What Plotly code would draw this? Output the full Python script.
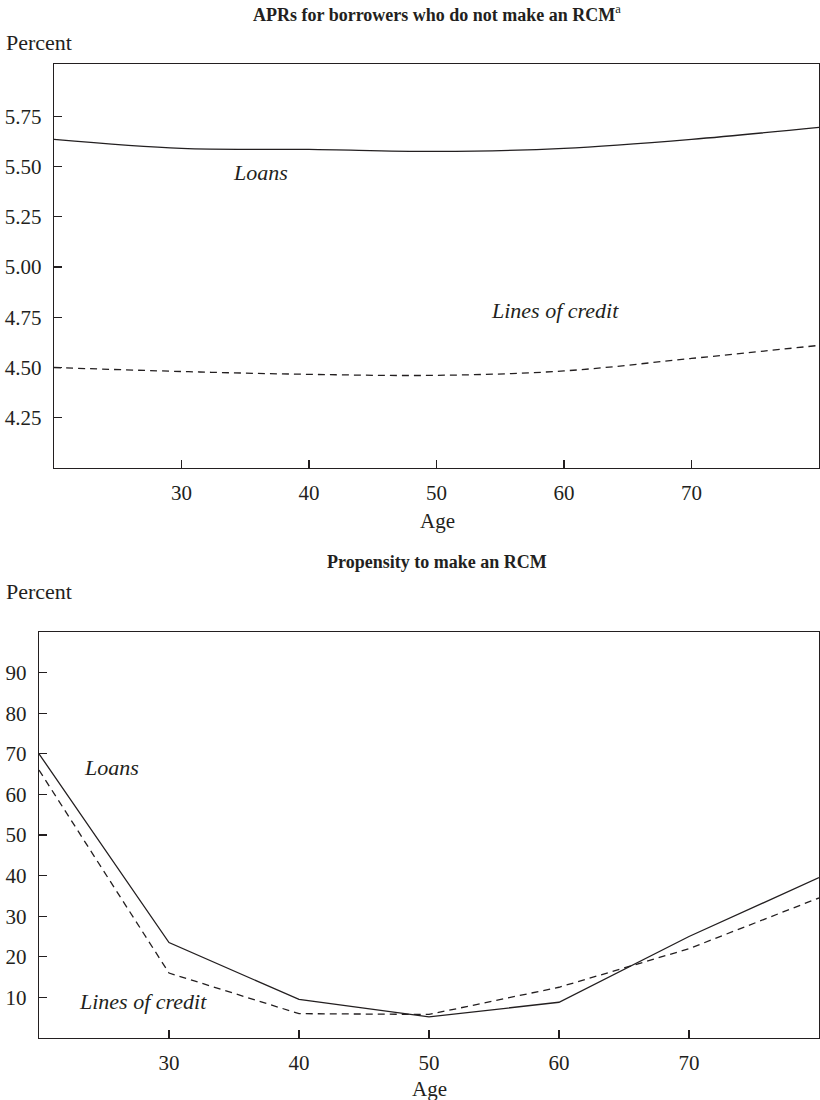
import plotly.graph_objects as go

ages = [20, 30, 40, 50, 60, 70, 80]
apr_loans = [5.635, 5.59, 5.585, 5.575, 5.59, 5.635, 5.695]
apr_loc = [4.50, 4.48, 4.466, 4.461, 4.483, 4.545, 4.61]
rcm_loans = [70, 23.5, 9.5, 5.2, 8.8, 25, 39.5]
rcm_loc = [66, 16, 6, 5.8, 12.5, 22, 34.5]

apr_ticks = [4.25, 4.50, 4.75, 5.00, 5.25, 5.50, 5.75]
rcm_ticks = [10, 20, 30, 40, 50, 60, 70, 80, 90]
age_ticks = [30, 40, 50, 60, 70]

FONT = "Liberation Serif"
INK = "#231f20"
W, H = 820, 1100

fig = go.Figure()
line_solid = dict(color=INK, width=1.3)
line_dash = dict(color=INK, width=1.3, dash="7px,5px")

fig.add_trace(go.Scatter(x=ages, y=apr_loans, mode="lines", line=dict(**line_solid, shape="spline"),
                         xaxis="x", yaxis="y", showlegend=False, hoverinfo="skip"))
fig.add_trace(go.Scatter(x=ages, y=apr_loc, mode="lines", line=dict(**line_dash, shape="spline"),
                         xaxis="x", yaxis="y", showlegend=False, hoverinfo="skip"))
fig.add_trace(go.Scatter(x=ages, y=rcm_loans, mode="lines", line=line_solid,
                         xaxis="x2", yaxis="y2", showlegend=False, hoverinfo="skip"))
fig.add_trace(go.Scatter(x=ages, y=rcm_loc, mode="lines", line=line_dash,
                         xaxis="x2", yaxis="y2", showlegend=False, hoverinfo="skip"))

axis_common = dict(showline=True, mirror=True, linecolor=INK, linewidth=1.4, showgrid=False,
                   zeroline=False, ticks="inside", ticklen=8, tickwidth=1.3, tickcolor=INK,
                   tickfont=dict(family=FONT, size=21, color=INK))

fig.update_layout(
    width=W, height=H,
    margin=dict(l=0, r=0, t=0, b=0),
    paper_bgcolor="white", plot_bgcolor="white",
    font=dict(family=FONT, color=INK),
    xaxis=dict(domain=[54 / W, 819 / W], range=[20, 80], tickvals=age_ticks,
               ticklabelstandoff=5, anchor="y", **axis_common),
    yaxis=dict(domain=[1 - 468 / H, 1 - 64 / H], range=[4.0, 6.01], tickvals=apr_ticks,
               tickformat=".2f", ticklabelstandoff=7, anchor="x", **axis_common),
    xaxis2=dict(domain=[39 / W, 819 / W], range=[20, 80], tickvals=age_ticks,
                ticklabelstandoff=5, anchor="y2", **axis_common),
    yaxis2=dict(domain=[1 - 1038 / H, 1 - 632 / H], range=[0, 100], tickvals=rcm_ticks,
                ticklabelstandoff=7, anchor="x2", **axis_common),
)

def paper_text(text, x, y, size, xanchor="center"):
    fig.add_annotation(text=text, x=x / W, y=1 - y / H,
                       xref="paper", yref="paper", showarrow=False, xanchor=xanchor,
                       yanchor="middle", font=dict(family=FONT, size=size, color=INK))

paper_text("<b>APRs for borrowers who do not make an RCM</b><sup>a</sup>", 437, 13, 18)
paper_text("Percent", 4, 42, 22, xanchor="left")
paper_text("Age", 437, 521, 21)
paper_text("<b>Propensity to make an RCM</b>", 437, 562, 18)
paper_text("Percent", 4, 591, 22, xanchor="left")
paper_text("Age", 429, 1089, 21)

def data_text(text, x, y, xr, yr):
    fig.add_annotation(text=f"<i>{text}</i>", x=x, y=y, xref=xr, yref=yr, showarrow=False,
                       font=dict(family=FONT, size=22, color=INK))

data_text("Loans", 36.2, 5.47, "x", "y")
data_text("Lines of credit", 59.3, 4.785, "x", "y")
data_text("Loans", 25.6, 66.6, "x2", "y2")
data_text("Lines of credit", 28.0, 9.0, "x2", "y2")

fig.write_html(
    "out.html",
    config={"displayModeBar": False, "staticPlot": True},
    post_script="document.body.style.margin='0';document.body.style.overflow='hidden';",
)
